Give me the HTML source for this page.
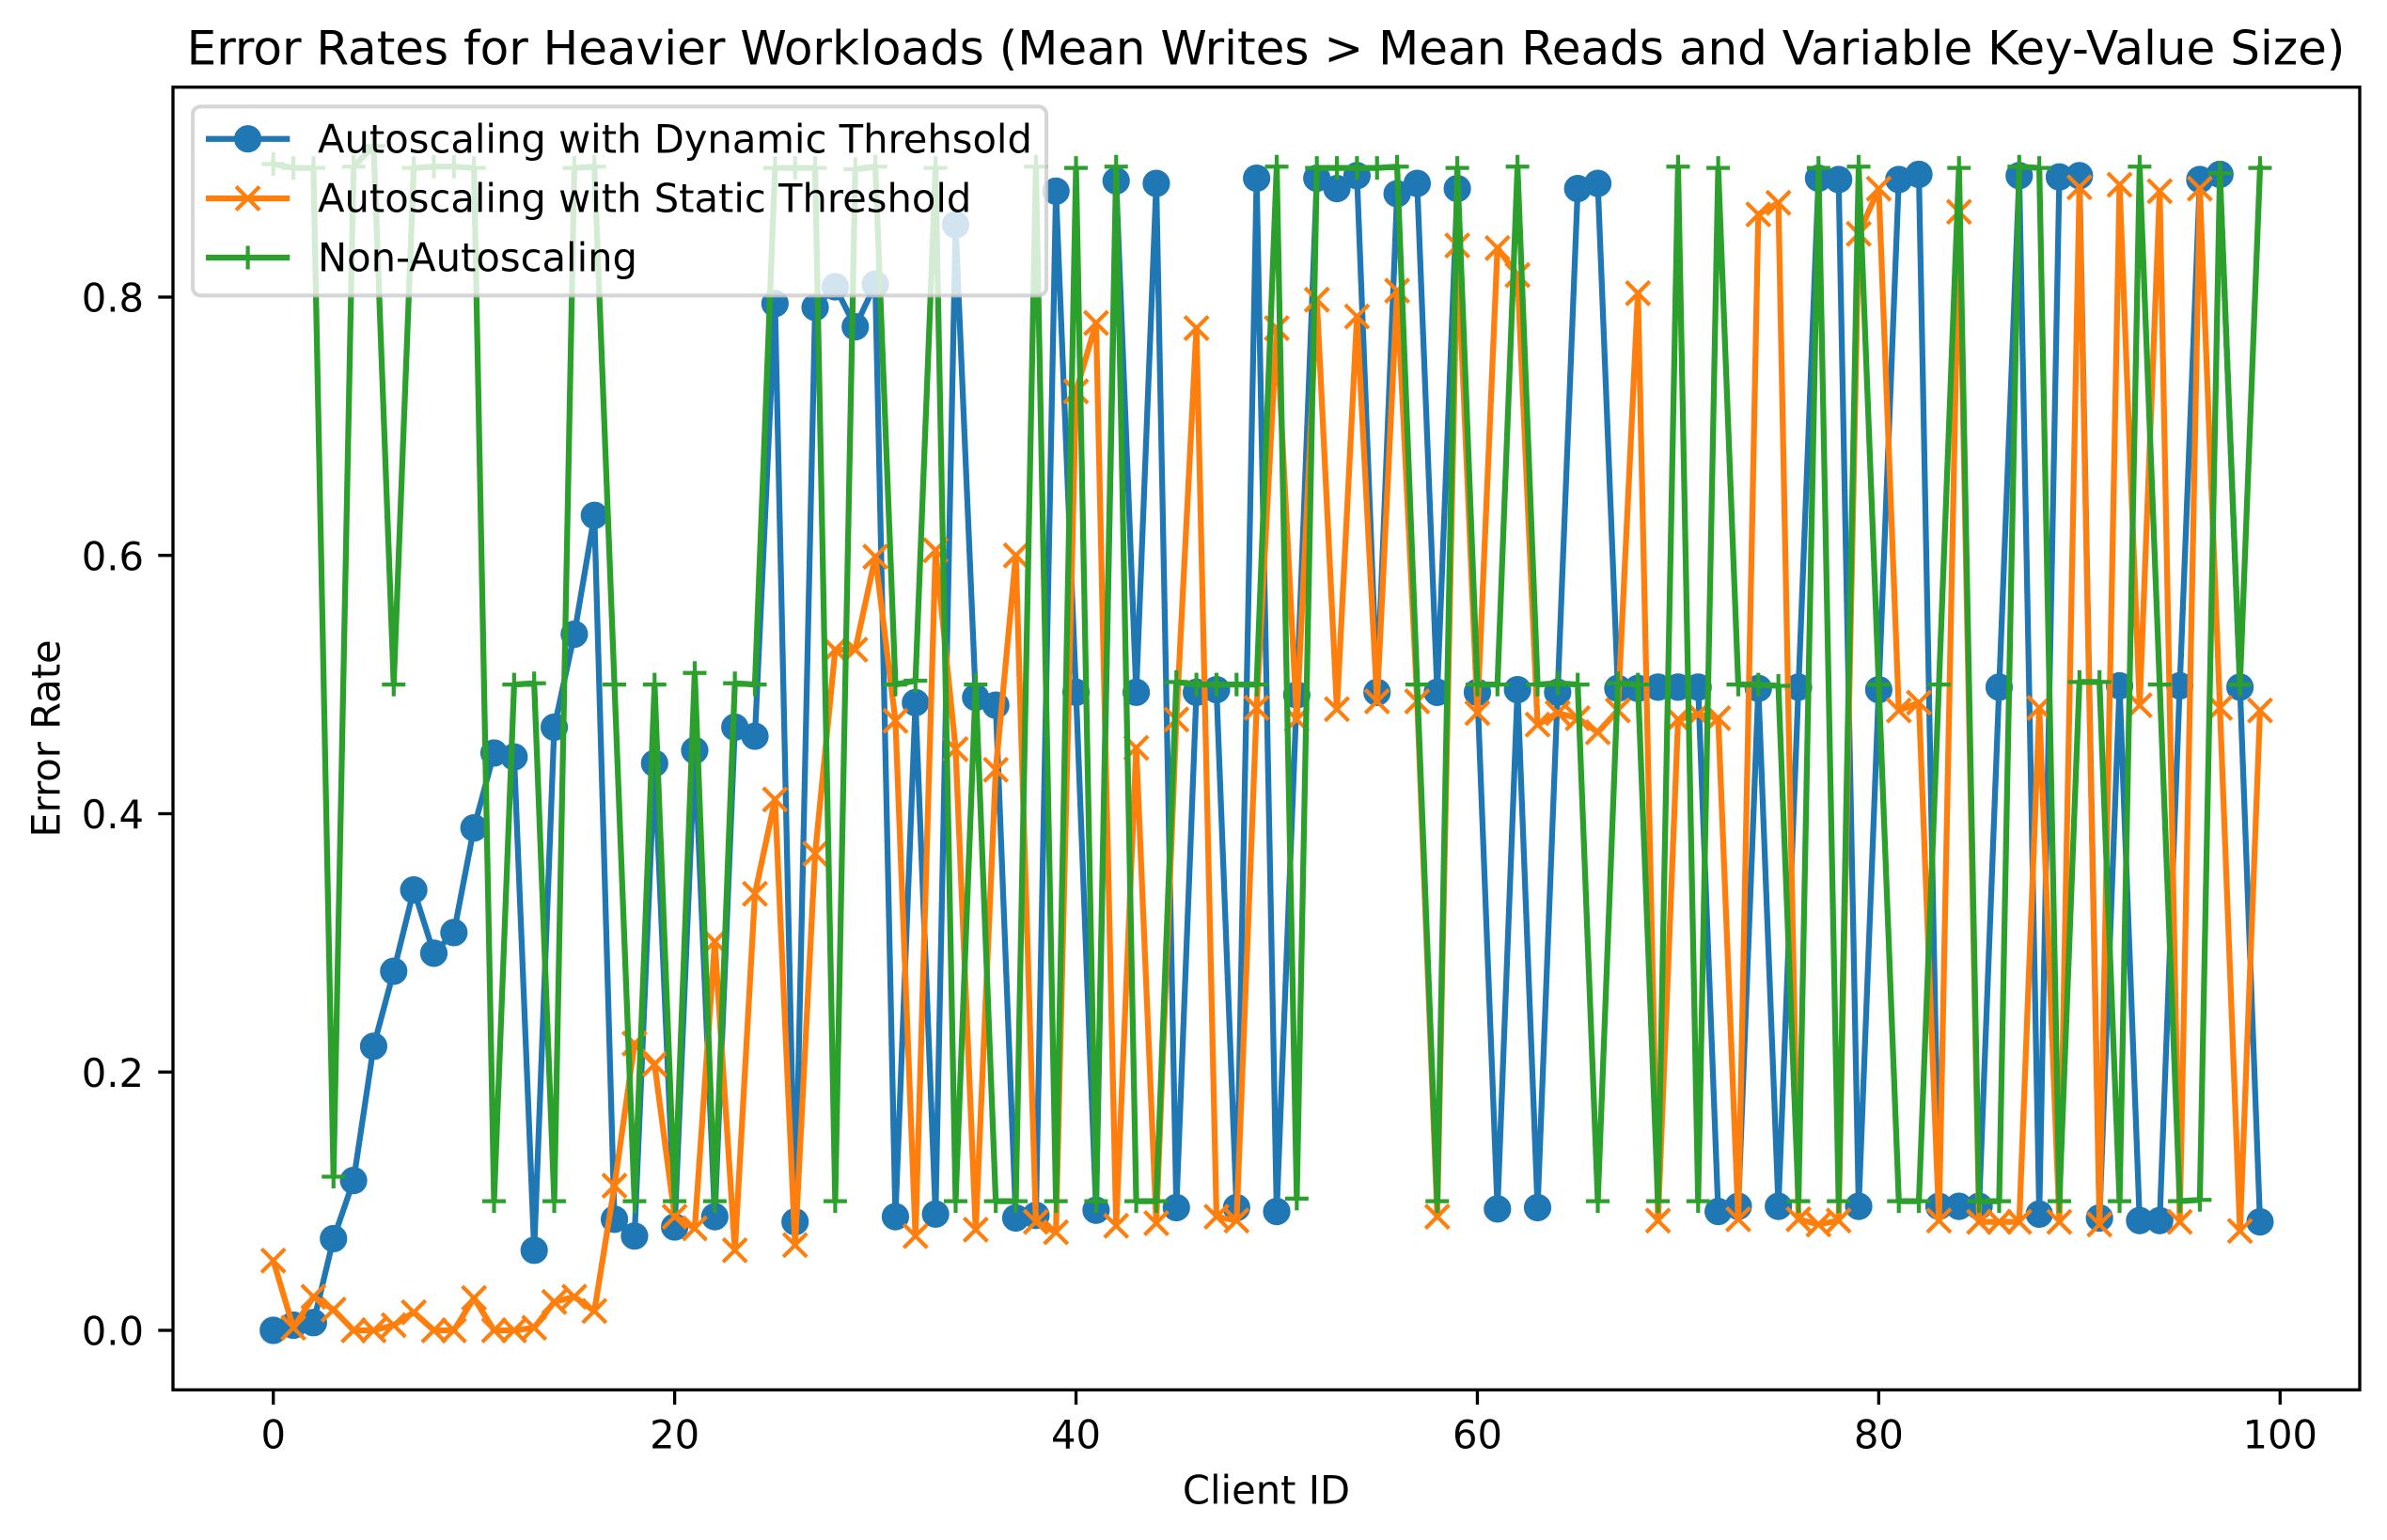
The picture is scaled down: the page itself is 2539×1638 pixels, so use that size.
<!DOCTYPE html>
<html lang="en">
<head>
<meta charset="utf-8">
<title>Error Rates for Heavier Workloads</title>
<style>
  html, body { margin: 0; padding: 0; background: #ffffff; }
  svg { display: block; }
  text { font-family: "DejaVu Sans", "Liberation Sans", sans-serif; fill: #000000; }
</style>
</head>
<body>
<svg id="chart" xmlns="http://www.w3.org/2000/svg" width="2539" height="1638" viewBox="0 0 2539 1638">
  <defs>
    <clipPath id="plot-clip"><rect x="184" y="92.7" width="2326" height="1385.6"></rect></clipPath>
  </defs>
  <rect x="0" y="0" width="2539" height="1638" fill="#ffffff"></rect>
  <g id="series-layer" clip-path="url(#plot-clip)"></g>
  <rect x="184" y="92.7" width="2326" height="1385.6" fill="none" stroke="#000000" stroke-width="3.33"></rect>
  <g id="tick-layer"></g>
  <text x="1346.5" y="68.3" font-size="50" text-anchor="middle">Error Rates for Heavier Workloads (Mean Writes &gt; Mean Reads and Variable Key-Value Size)</text>
  <text x="1347" y="1599.3" font-size="41.67" text-anchor="middle">Client ID</text>
  <text x="63.3" y="785.5" font-size="41.67" text-anchor="middle" transform="rotate(-90 63.3 785.5)">Error Rate</text>
  <g>
    <rect x="205" y="113.3" width="908" height="201" rx="8.3" ry="8.3" fill="#ffffff" fill-opacity="0.8" stroke="#cccccc" stroke-opacity="0.8" stroke-width="4.17"></rect>
    <g>
      <line x1="219" y1="147.7" x2="308.3" y2="147.7" stroke="#1f77b4" stroke-width="6.25"></line>
      <circle cx="263.6" cy="147.7" r="12.5" fill="#1f77b4" stroke="#1f77b4" stroke-width="4.17"></circle>
      <text x="338" y="162.7" font-size="41.67">Autoscaling with Dynamic Threhsold</text>
    </g>
    <g>
      <line x1="219" y1="211" x2="308.3" y2="211" stroke="#ff7f0e" stroke-width="6.25"></line>
      <path d="M251.1 198.5L276.1 223.5M251.1 223.5L276.1 198.5" fill="none" stroke="#ff7f0e" stroke-width="4.17"></path>
      <text x="338" y="225.7" font-size="41.67">Autoscaling with Static Threshold</text>
    </g>
    <g>
      <line x1="219" y1="274" x2="308.3" y2="274" stroke="#2ca02c" stroke-width="6.25"></line>
      <path d="M251.1 274L276.1 274M263.6 261.5L263.6 286.5" fill="none" stroke="#2ca02c" stroke-width="4.17"></path>
      <text x="338" y="288.7" font-size="41.67">Non-Autoscaling</text>
    </g>
  </g>
</svg>
<script>
const xTickValues = [0, 20, 40, 60, 80, 100];
const xTickLabels = ["0", "20", "40", "60", "80", "100"];
const yTickValues = [0, 0.2, 0.4, 0.6, 0.8];
const yTickLabels = ["0.0", "0.2", "0.4", "0.6", "0.8"];

const dynamicThreshold = [
  0.000, 0.004, 0.006, 0.071, 0.116, 0.220, 0.278, 0.341, 0.292, 0.308,
  0.389, 0.447, 0.444, 0.062, 0.467, 0.539, 0.631, 0.086, 0.073, 0.439,
  0.080, 0.449, 0.088, 0.467, 0.460, 0.795, 0.084, 0.792, 0.808, 0.777,
  0.810, 0.088, 0.486, 0.090, 0.856, 0.490, 0.484, 0.087, 0.089, 0.882,
  0.494, 0.093, 0.890, 0.494, 0.888, 0.095, 0.494, 0.496, 0.095, 0.892,
  0.092, 0.492, 0.892, 0.884, 0.894, 0.494, 0.880, 0.888, 0.494, 0.884,
  0.494, 0.094, 0.496, 0.095, 0.494, 0.884, 0.888, 0.497, 0.497, 0.498,
  0.498, 0.498, 0.092, 0.096, 0.497, 0.096, 0.498, 0.892, 0.891, 0.096,
  0.496, 0.891, 0.895, 0.096, 0.096, 0.096, 0.498, 0.894, 0.090, 0.893,
  0.894, 0.087, 0.499, 0.085, 0.085, 0.499, 0.891, 0.895, 0.498, 0.084
];
const staticThreshold = [
  0.054, 0.002, 0.026, 0.016, 0.000, 0.000, 0.004, 0.014, 0.000, 0.000,
  0.025, 0.000, 0.000, 0.002, 0.022, 0.026, 0.015, 0.112, 0.222, 0.206,
  0.088, 0.079, 0.301, 0.062, 0.338, 0.411, 0.066, 0.369, 0.527, 0.527,
  0.599, 0.472, 0.073, 0.604, 0.450, 0.078, 0.434, 0.600, 0.084, 0.076,
  0.727, 0.780, 0.081, 0.451, 0.083, 0.473, 0.776, 0.088, 0.085, 0.482,
  0.776, 0.473, 0.798, 0.481, 0.785, 0.487, 0.805, 0.487, 0.088, 0.840,
  0.478, 0.838, 0.817, 0.469, 0.478, 0.474, 0.463, 0.480, 0.803, 0.085,
  0.473, 0.477, 0.474, 0.086, 0.864, 0.873, 0.086, 0.082, 0.085, 0.849,
  0.884, 0.480, 0.486, 0.085, 0.866, 0.084, 0.084, 0.084, 0.482, 0.084,
  0.885, 0.082, 0.887, 0.484, 0.882, 0.084, 0.884, 0.482, 0.077, 0.480
];
const nonAutoscaling = [
  0.903, 0.900, 0.900, 0.119, 0.901, 0.917, 0.500, 0.900, 0.901, 0.901,
  0.900, 0.100, 0.500, 0.501, 0.100, 0.900, 0.901, 0.500, 0.100, 0.500,
  0.100, 0.509, 0.100, 0.501, 0.500, 0.900, 0.900, 0.900, 0.100, 0.899,
  0.901, 0.500, 0.503, 0.900, 0.100, 0.500, 0.100, 0.100, 0.901, 0.100,
  0.900, 0.100, 0.901, 0.100, 0.100, 0.502, 0.500, 0.500, 0.500, 0.500,
  0.901, 0.102, 0.900, 0.900, 0.900, 0.900, 0.901, 0.500, 0.100, 0.900,
  0.500, 0.500, 0.901, 0.500, 0.501, 0.500, 0.100, 0.501, 0.500, 0.100,
  0.901, 0.100, 0.900, 0.500, 0.500, 0.499, 0.100, 0.900, 0.100, 0.901,
  0.500, 0.100, 0.100, 0.500, 0.900, 0.100, 0.100, 0.901, 0.900, 0.100,
  0.502, 0.502, 0.100, 0.901, 0.500, 0.100, 0.101, 0.896, 0.500, 0.900
];

const SVG_NS = "http://www.w3.org/2000/svg";
const seriesLayer = document.getElementById("series-layer");
const tickLayer = document.getElementById("tick-layer");

function xScale(v) {
  return 290.7 + v * 21.346;
}
function yScale(v) {
  return 1415 - v * 1373.75;
}
function make(tag, attrs) {
  const el = document.createElementNS(SVG_NS, tag);
  Object.keys(attrs).forEach(function (k) { el.setAttribute(k, attrs[k]); });
  return el;
}

function drawSeries(values, color, seriesName, kind) {
  const group = make("g", {});
  
  
  const pts = values.map(function (v, i) {
    return xScale(i).toFixed(2) + "," + yScale(v).toFixed(2);
  }).join(" ");
  const line = make("polyline", {
    points: pts, fill: "none", stroke: color,
    "stroke-width": 6.25, "stroke-linejoin": "round", "stroke-linecap": "square"
  });
  
  
  group.appendChild(line);
  values.forEach(function (v, i) {
    const cx = xScale(i);
    const cy = yScale(v);
    let mark;
    if (kind === "circle") {
      mark = make("circle", { cx: cx, cy: cy, r: 12.5, fill: color, stroke: color, "stroke-width": 4.17 });
    } else if (kind === "cross") {
      mark = make("path", {
        d: "M" + (cx - 12.5) + " " + (cy - 12.5) + "L" + (cx + 12.5) + " " + (cy + 12.5) +
           "M" + (cx - 12.5) + " " + (cy + 12.5) + "L" + (cx + 12.5) + " " + (cy - 12.5),
        fill: "none", stroke: color, "stroke-width": 4.17
      });
    } else {
      mark = make("path", {
        d: "M" + (cx - 12.5) + " " + cy + "L" + (cx + 12.5) + " " + cy +
           "M" + cx + " " + (cy - 12.5) + "L" + cx + " " + (cy + 12.5),
        fill: "none", stroke: color, "stroke-width": 4.17
      });
    }
    
    
    group.appendChild(mark);
  });
  seriesLayer.appendChild(group);
}

function drawXTicks() {
  xTickValues.forEach(function (v, i) {
    const x = xScale(v);
    const tick = make("line", { x1: x, y1: 1478.3, x2: x, y2: 1494, stroke: "#000000", "stroke-width": 3.33 });
    
    
    tickLayer.appendChild(tick);
    const label = make("text", { x: x, y: 1540.7, "font-size": 41.67, "text-anchor": "middle" });
    label.textContent = xTickLabels[i];
    
    
    tickLayer.appendChild(label);
  });
}

function drawYTicks() {
  yTickValues.forEach(function (v, i) {
    const y = yScale(v);
    const tick = make("line", { x1: 168.3, y1: y, x2: 184, y2: y, stroke: "#000000", "stroke-width": 3.33 });
    
    
    tickLayer.appendChild(tick);
    const label = make("text", { x: 153, y: y + 15.5, "font-size": 41.67, "text-anchor": "end" });
    label.textContent = yTickLabels[i];
    
    
    tickLayer.appendChild(label);
  });
}

drawSeries(dynamicThreshold, "#1f77b4", "dynamic-threshold", "circle");
drawSeries(staticThreshold, "#ff7f0e", "static-threshold", "cross");
drawSeries(nonAutoscaling, "#2ca02c", "non-autoscaling", "plus");
drawXTicks();
drawYTicks();
</script>
</body>
</html>
